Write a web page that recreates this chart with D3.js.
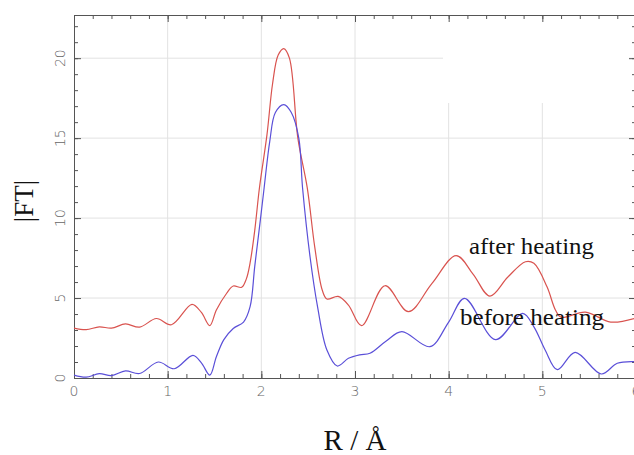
<!DOCTYPE html>
<html>
<head>
<meta charset="utf-8">
<script src="https://cdn.jsdelivr.net/npm/d3@7"></script>
<style>
  body { margin: 0; background: #fff; }
  .tick-label { font-family: "DejaVu Sans", sans-serif; font-weight: 200; font-size: 14px; fill: #666; }
  .title { font-family: "Liberation Serif", "Times New Roman", serif; fill: #111; }
</style>
</head>
<body>
<svg id="chart"></svg>
<script>
// after heating (red)
const afterR = [0, 0.13, 0.27, 0.4, 0.55, 0.7, 0.88, 1.04, 1.26, 1.36, 1.45, 1.52, 1.63, 1.70, 1.79, 1.84, 1.88, 1.93, 1.98, 2.06, 2.12, 2.18, 2.24, 2.30, 2.39, 2.49, 2.57, 2.65, 2.70, 2.82, 2.93, 3.07, 3.32, 3.57, 3.82, 4.08, 4.26, 4.44, 4.63, 4.82, 4.91, 5.05, 5.14, 5.20, 5.46, 5.73, 5.98]
const afterFT = [3.12, 3.02, 3.2, 3.12, 3.38, 3.18, 3.72, 3.33, 4.6, 4.1, 3.28, 4.25, 5.3, 5.75, 5.67, 6.2, 7.2, 9.25, 11.9, 15.2, 18.4, 20.2, 20.6, 20.0, 15.0, 11.9, 8.2, 5.5, 4.94, 5.1, 4.56, 3.27, 5.77, 4.15, 5.9, 7.65, 6.5, 5.12, 6.3, 7.27, 7.17, 5.7, 4.25, 3.8, 4.12, 3.5, 3.72]

// before heating (blue)
const beforeR = [0, 0.13, 0.27, 0.4, 0.55, 0.7, 0.9, 1.07, 1.27, 1.36, 1.45, 1.52, 1.6, 1.70, 1.81, 1.88, 1.93, 1.99, 2.03, 2.09, 2.15, 2.24, 2.32, 2.40, 2.44, 2.52, 2.60, 2.70, 2.81, 2.93, 3.05, 3.16, 3.33, 3.5, 3.8, 4.0, 4.17, 4.5, 4.79, 4.91, 5.03, 5.16, 5.35, 5.63, 5.8, 5.98]
const beforeFT = [0.18, 0.05, 0.27, 0.15, 0.44, 0.28, 1.0, 0.58, 1.42, 0.95, 0.18, 1.33, 2.4, 3.1, 3.5, 4.46, 7.0, 9.9, 11.9, 14.8, 16.6, 17.1, 16.6, 15.0, 11.9, 7.58, 4.46, 1.75, 0.75, 1.23, 1.45, 1.55, 2.3, 2.9, 1.96, 3.5, 4.98, 2.4, 4.04, 3.2, 1.75, 0.52, 1.6, 0.25, 0.92, 1.02]

const xTicks = [0, 1, 2, 3, 4, 5, 6]
const yTicks = [0, 5, 10, 15, 20]

const w = 634, h = 455
const svg = d3.select('#chart').attr('width', w).attr('height', h)

const x = d3.scaleLinear().domain([0, 6]).range([74, 636])
const y = d3.scaleLinear().domain([0, 22.7]).range([378, 15])

// grid
svg.append('g')
    .selectAll('line')
    .data(xTicks.filter(d => d > 0 && d < 6))
    .join('line')
    .attr('x1', d => x(d)).attr('x2', d => x(d))
    .attr('y1', y.range()[1]).attr('y2', y.range()[0])
    .attr('stroke', '#e2e2e2')
svg.append('g')
    .selectAll('line')
    .data(yTicks.filter(d => d > 0))
    .join('line')
    .attr('x1', x.range()[0]).attr('x2', x.range()[1])
    .attr('y1', d => y(d)).attr('y2', d => y(d))
    .attr('stroke', '#e2e2e2')

// blank patch over the grid at top right, as in the original
svg.append('rect')
    .attr('x', 443).attr('y', 17)
    .attr('width', 186).attr('height', 86)
    .attr('fill', '#fff')

const minorX = d3.range(0, 6.01, 0.2)
const minorY = d3.range(0, 23, 1)

function styleAxis(g) {
    g.select('.domain').attr('stroke', '#555')
    g.selectAll('.tick line').attr('stroke', '#555')
}

// major and minor axes, ticks inside
const axes = [
    [d3.axisBottom(x).tickValues(xTicks), d3.axisBottom(x).tickValues(minorX), 'translate(0,' + y(0) + ')'],
    [d3.axisTop(x).tickValues(xTicks), d3.axisTop(x).tickValues(minorX), 'translate(0,' + y.range()[1] + ')'],
    [d3.axisLeft(y).tickValues(yTicks), d3.axisLeft(y).tickValues(minorY), 'translate(' + x(0) + ',0)'],
    [d3.axisRight(y).tickValues(yTicks), d3.axisRight(y).tickValues(minorY), 'translate(' + x(6) + ',0)']
]
axes.forEach(([major, minor, tr]) => {
    svg.append('g').attr('transform', tr)
        .call(minor.tickSize(-4).tickFormat('').tickSizeOuter(0))
        .call(styleAxis)
    svg.append('g').attr('transform', tr)
        .call(major.tickSize(-7).tickFormat('').tickSizeOuter(0))
        .call(styleAxis)
})

// tick labels
svg.append('g')
    .selectAll('text')
    .data(xTicks)
    .join('text')
    .attr('class', 'tick-label')
    .attr('x', d => x(d))
    .attr('y', 396)
    .attr('text-anchor', 'middle')
    .text(d => d)
svg.append('g')
    .selectAll('text')
    .data(yTicks)
    .join('text')
    .attr('class', 'tick-label')
    .attr('transform', d => 'translate(65,' + y(d) + ') rotate(-90)')
    .attr('text-anchor', 'middle')
    .text(d => d)

// curves
const line = d3.line()
    .x(d => x(d[0]))
    .y(d => y(d[1]))
    .curve(d3.curveCatmullRom.alpha(0.5))

svg.append('path')
    .datum(afterR.map((r, i) => [r, afterFT[i]]))
    .attr('d', line)
    .attr('fill', 'none')
    .attr('stroke', '#d9534f')
    .attr('stroke-width', 1.2)

svg.append('path')
    .datum(beforeR.map((r, i) => [r, beforeFT[i]]))
    .attr('d', line)
    .attr('fill', 'none')
    .attr('stroke', '#5a4fd8')
    .attr('stroke-width', 1.2)

// labels
svg.append('text').attr('class', 'title')
    .attr('x', 469).attr('y', 254)
    .attr('font-size', 23)
    .attr('textLength', 125).attr('lengthAdjust', 'spacingAndGlyphs')
    .text('after heating')
svg.append('text').attr('class', 'title')
    .attr('x', 460).attr('y', 325)
    .attr('font-size', 23)
    .attr('textLength', 144).attr('lengthAdjust', 'spacingAndGlyphs')
    .text('before heating')

svg.append('text').attr('class', 'title')
    .attr('x', 355).attr('y', 450)
    .attr('text-anchor', 'middle')
    .attr('font-size', 29)
    .text('R / Å')
svg.append('text').attr('class', 'title')
    .attr('transform', 'translate(33,201) rotate(-90)')
    .attr('text-anchor', 'middle')
    .attr('font-size', 27)
    .text('|FT|')
</script>
</body>
</html>
